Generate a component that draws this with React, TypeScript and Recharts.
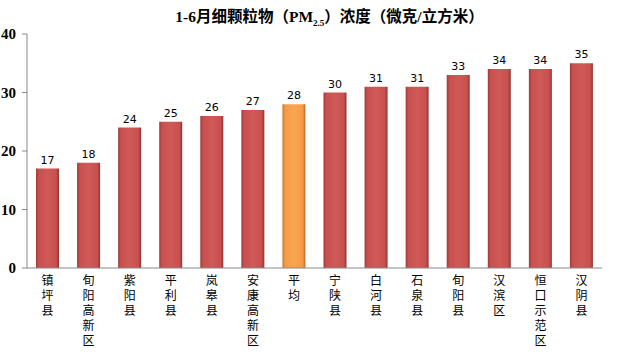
import React from "react";
import { BarChart, Bar, XAxis, YAxis, Cell, LabelList } from "recharts";

const categories = [
  "镇坪县", "旬阳高新区", "紫阳县", "平利县", "岚皋县", "安康高新区", "平均",
  "宁陕县", "白河县", "石泉县", "旬阳县", "汉滨区", "恒口示范区", "汉阴县",
];
const values = [17, 18, 24, 25, 26, 27, 28, 30, 31, 31, 33, 34, 34, 35];
const yTicks = [0, 10, 20, 30, 40];

const data = categories.map((name, i) => ({ name, value: values[i] }));

// 竖排的分类标签
const VerticalTick = (props: any) => {
  const { x, y, payload } = props;
  return (
    <text
      x={x}
      y={y - 2}
      textAnchor="start"
      fontSize={12}
      fill="#000"
      fontFamily="'Noto Sans CJK SC', sans-serif"
      style={{ writingMode: "vertical-rl", letterSpacing: "3.2px" }}
    >
      {payload.value}
    </text>
  );
};

export default function App() {
  return (
    <div style={{ position: "fixed", left: 0, top: 0, width: 629, height: 356, background: "#fff" }}>
      <div
        style={{
          position: "absolute",
          left: 15,
          top: 4,
          width: 629,
          textAlign: "center",
          fontFamily: "'Liberation Serif', 'Noto Sans CJK SC', serif",
          fontWeight: "bold",
          fontSize: 15.5,
          color: "#000",
        }}
      >
        1-6月细颗粒物（PM<sub style={{ fontSize: 9 }}>2.5</sub>）浓度（微克/立方米）
      </div>
      <BarChart
        width={629}
        height={356}
        data={data}
        margin={{ top: 34, right: 27, bottom: 0, left: 0 }}
      >
        <defs>
          <linearGradient id="redG" x1="0" y1="0" x2="1" y2="0">
            <stop offset="0%" stopColor="#9E3A38" />
            <stop offset="12%" stopColor="#C8504E" />
            <stop offset="50%" stopColor="#D05A58" />
            <stop offset="88%" stopColor="#C8504E" />
            <stop offset="100%" stopColor="#8E3332" />
          </linearGradient>
          <linearGradient id="orangeG" x1="0" y1="0" x2="1" y2="0">
            <stop offset="0%" stopColor="#C8782F" />
            <stop offset="12%" stopColor="#F69A45" />
            <stop offset="50%" stopColor="#FBA652" />
            <stop offset="88%" stopColor="#F69A45" />
            <stop offset="100%" stopColor="#B86A28" />
          </linearGradient>
        </defs>
        <XAxis
          dataKey="name"
          interval={0}
          tick={<VerticalTick />}
          tickLine={false}
          axisLine={{ stroke: "#888" }}
          height={88}
        />
        <YAxis
          domain={[0, 40]}
          ticks={yTicks}
          width={27}
          tickSize={5}
          tickMargin={6}
          axisLine={{ stroke: "#888" }}
          tickLine={{ stroke: "#888" }}
          tick={{ fill: "#000", fontSize: 15, fontWeight: "bold", fontFamily: "'Liberation Serif', serif" }}
        />
        <Bar dataKey="value" barSize={23} isAnimationActive={false}>
          {data.map((d, i) => (
            <Cell key={i} fill={d.name === "平均" ? "url(#orangeG)" : "url(#redG)"} />
          ))}
          <LabelList
            dataKey="value"
            position="top"
            offset={5}
            fill="#000"
            fontSize={11}
            fontFamily="'DejaVu Sans', sans-serif"
          />
        </Bar>
      </BarChart>
    </div>
  );
}
